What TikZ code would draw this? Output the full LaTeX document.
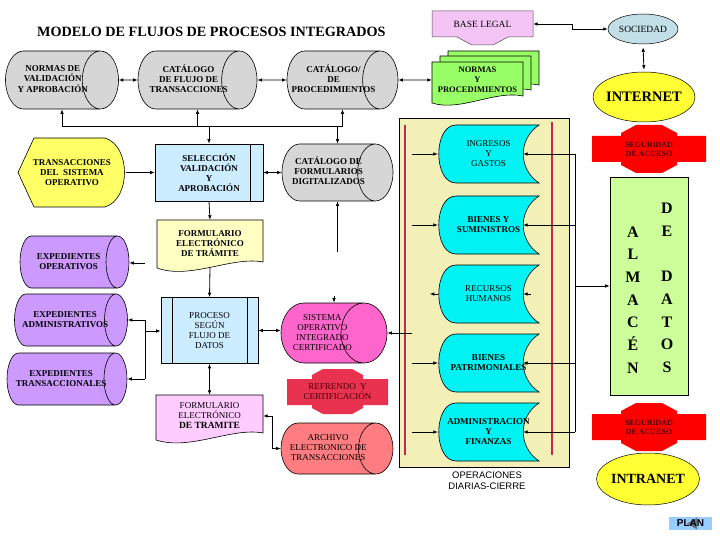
\documentclass[tikz,border=0pt]{standalone}
\usepackage{fontspec}
\setmainfont{Liberation Serif}
\newfontfamily\arialfont{Liberation Sans}
\usepackage{tikz}
\usetikzlibrary{arrows.meta, calc, shapes.geometric}
\definecolor{mgray}{HTML}{D6D6D6}
\definecolor{mlblue}{HTML}{CCECFF}
\definecolor{myellow}{HTML}{FFFF66}
\definecolor{mpaleyel}{HTML}{FFFFC4}
\definecolor{mpurple}{HTML}{CC99FF}
\definecolor{mmagenta}{HTML}{FF66CC}
\definecolor{mcrimson}{HTML}{E8324F}
\definecolor{msalmon}{HTML}{FF7C80}
\definecolor{mpink}{HTML}{FFCCFF}
\definecolor{mlegal}{HTML}{F4C4F4}
\definecolor{mgreen}{HTML}{99FF66}
\definecolor{msky}{HTML}{C2DEE6}
\definecolor{mnet}{HTML}{FFFF33}
\definecolor{mpanel}{HTML}{F2F0B6}
\definecolor{mline}{HTML}{C02A50}
\definecolor{mcyan}{HTML}{00F2F2}
\definecolor{mlime}{HTML}{CCFF99}
\definecolor{mbutton}{HTML}{99CCFF}
\definecolor{mdarkred}{HTML}{4A0008}
\definecolor{mred}{HTML}{FF0000}

% centred lines of a cylinder label, taking no width
\newcommand{\cyltxt}[1]{\hbox to 0pt{\hss\begin{tabular}{@{}c@{}}#1\end{tabular}\hss}}

\tikzset{
  lbl/.style={font=\fontsize{9}{10}\selectfont\bfseries, align=center, inner sep=0pt},
  lblr/.style={font=\fontsize{9}{10}\selectfont, align=center, inner sep=0pt},
  box/.style={draw, line width=0.6pt, inner sep=0pt},
  cyl/.style={cylinder, draw, line width=0.6pt, shape aspect=1.15, anchor=shape center, inner sep=0pt,
    font=\fontsize{9}{10}\selectfont\bfseries},
  cylr/.style={cyl, font=\fontsize{9}{10}\selectfont},
  outline/.style={draw=black, line width=0.6pt},
  link/.style={line width=0.8pt},
  seclbl/.style={font=\fontsize{8}{9}\selectfont\bfseries\color{mdarkred}, align=center, inner sep=0pt},
}

\begin{document}
\begin{tikzpicture}[x=1pt, y=-1pt, >={Latex[length=4.5pt, width=3.6pt]}]
  \useasboundingbox[fill=white] (0,0) rectangle (720,540);

  %% Title
  \node[font=\fontsize{14.2}{16}\selectfont\bfseries, anchor=west, inner sep=0pt] (title) at (37,32)
    {MODELO DE FLUJOS DE PROCESOS INTEGRADOS};

  %% Top row of catalogues
  \node[cyl, fill=mgray, minimum width=58pt, minimum height=113pt] (normas) at (62,80)
    {\cyltxt{NORMAS DE\\VALIDACIÓN\\Y APROBACIÓN}};
  \node[cyl, fill=mgray, minimum width=58pt, minimum height=119pt] (catflujo) at (197.5,80)
    {\cyltxt{CATÁLOGO\\DE FLUJO DE\\TRANSACCIONES}};
  \node[cyl, fill=mgray, minimum width=58pt, minimum height=111pt] (catproc) at (342.5,80)
    {\cyltxt{CATÁLOGO/\\DE\\PROCEDIMIENTOS}};

  %% Legal base and norms
  \filldraw[fill=mlegal, draw=black!70, line width=0.5pt] (432,11) -- (533,11) -- (533,37) -- (508,37)
    -- (493,45) -- (472,45) -- (457,37) -- (432,37) -- cycle;
  \node[lblr, font=\fontsize{9.5}{11}\selectfont, minimum width=101pt, minimum height=26pt] (baselegal)
    at (482.5,24) {BASE LEGAL};
  \foreach \dx/\dy in {16/-11, 8/-6, 0/0}{
    \filldraw[fill=mgreen, outline] ({432+\dx},{62+\dy}) -- ({523+\dx},{62+\dy}) -- ({523+\dx},{96+\dy})
      .. controls ({495+\dx},{90+\dy}) and ({460+\dx},{112+\dy}) .. ({432+\dx},{103+\dy}) -- cycle;
  }
  \node[lbl, font=\fontsize{8.5}{10}\selectfont\bfseries, minimum width=91pt, minimum height=40pt]
    (normasproc) at (477.5,80) {NORMAS\\Y\\PROCEDIMIENTOS};

  %% Society and networks
  \node[ellipse, draw, line width=0.5pt, fill=msky, minimum width=70pt, minimum height=30pt, inner sep=0pt,
    font=\fontsize{9.5}{11}\selectfont] (sociedad) at (643,29) {\makebox[0pt]{SOCIEDAD}};
  \node[ellipse, draw, line width=0.5pt, fill=mnet, minimum width=102pt, minimum height=50pt, inner sep=0pt,
    font=\fontsize{14.5}{16}\selectfont\bfseries] (internet) at (644,97) {\makebox[0pt]{INTERNET}};

  %% Second row
  \filldraw[fill=myellow, outline] (18,172.5) -- (34,138) -- (105,138)
    .. controls (131,146) and (131,199) .. (105,207) -- (34,207) -- cycle;
  \node[lbl, minimum width=108pt, minimum height=69pt] (transac) at (72,172.5)
    {TRANSACCIONES\\DEL\ \ SISTEMA\\OPERATIVO};
  \node[box, lbl, fill=mlblue, minimum width=108pt, minimum height=57pt] (seleccion) at (209,172.5)
    {SELECCIÓN\\VALIDACIÓN\\Y\\APROBACIÓN};
  \draw[line width=0.6pt] ($(seleccion.north east)+(-13,0)$) -- ($(seleccion.south east)+(-13,0)$);
  \node[cyl, fill=mgray, minimum width=57pt, minimum height=111pt] (catform) at (337.5,172.5)
    {\cyltxt{CATÁLOGO DE\\FORMULARIOS\\DIGITALIZADOS}};

  %% Electronic form (1)
  \filldraw[fill=mpaleyel, outline] (157,220) -- (263,220) -- (263,262)
    .. controls (232,256) and (190,280) .. (157,268) -- cycle;
  \node[lbl, minimum width=106pt, minimum height=48pt] (form1) at (210,244)
    {FORMULARIO\\ELECTRÓNICO\\DE TRÁMITE};

  %% Files
  \node[cyl, fill=mpurple, minimum width=52pt, minimum height=109pt] (expop) at (74.5,262)
    {\cyltxt{EXPEDIENTES\\OPERATIVOS}};
  \node[cyl, fill=mpurple, minimum width=52pt, minimum height=113pt] (expadm) at (71,320)
    {\cyltxt{EXPEDIENTES\\ADMINISTRATIVOS}};
  \node[cyl, fill=mpurple, minimum width=52pt, minimum height=120pt] (exptra) at (67,379)
    {\cyltxt{EXPEDIENTES\\TRANSACCIONALES}};

  %% Process
  \node[box, lblr, fill=mlblue, minimum width=97pt, minimum height=66pt] (proceso) at (209.5,330.5)
    {PROCESO\\SEGÚN\\FLUJO DE\\DATOS};
  \draw[line width=0.6pt] ($(proceso.north west)+(12,0)$) -- ($(proceso.south west)+(12,0)$);
  \draw[line width=0.6pt] ($(proceso.north east)+(-11,0)$) -- ($(proceso.south east)+(-11,0)$);
  \node[cylr, fill=mmagenta, minimum width=60pt, minimum height=106pt] (sistema) at (334,333)
    {\cyltxt{SISTEMA\\OPERATIVO\\INTEGRADO\\CERTIFICADO}};

  %% Endorsement
  \fill[mcrimson] (287,379) -- (312,379) -- (312,375) -- (323,369) -- (352,369) -- (363,375) -- (363,379)
    -- (388,379) -- (388,405) -- (363,405) -- (363,408) -- (352,414) -- (323,414) -- (312,408)
    -- (312,405) -- (287,405) -- cycle;
  \node[lblr, text=mdarkred, minimum width=101pt, minimum height=26pt] (refrendo) at (337.5,392)
    {REFRENDO\ \ Y\\CERTIFICACIÓN};

  %% Electronic form (2) and archive
  \filldraw[fill=mpink, outline] (156,395) -- (263,395) -- (263,433)
    .. controls (232,427) and (190,451) .. (156,440) -- cycle;
  \node[lblr, minimum width=107pt, minimum height=42pt] (form2) at (209.5,416)
    {FORMULARIO\\ELECTRÓNICO\\{\fontsize{9.5}{10}\selectfont\bfseries DE TRAMITE}};
  \node[cylr, fill=msalmon, minimum width=51pt, minimum height=112pt] (archivo) at (337,448.5)
    {\cyltxt{ARCHIVO\\ELECTRONICO DE\\TRANSACCIONES}};

  %% Daily operations panel
  \filldraw[fill=mpanel, outline] (399,118) rectangle (569,467);
  \draw[mline, line width=1.5pt] (405,125) -- (405,455);
  \draw[mline, line width=1.5pt] (552,122) -- (552,455);
  \foreach \t/\nm/\fw/\txt in {125/ingresos/\mdseries/{INGRESOS\\Y\\GASTOS},
                               196/bienes/\bfseries/{BIENES Y\\SUMINISTROS},
                               265/recursos/\mdseries/{RECURSOS\\HUMANOS},
                               334/patrimonio/\bfseries/{BIENES\\PATRIMONIALES},
                               403/finanzas/\bfseries/{ADMINISTRACION\\Y\\FINANZAS}}{
    \filldraw[fill=mcyan, outline] (539,\t) -- (456,\t) .. controls (433,\t) and (433,\t+58) .. (456,\t+58)
      -- (539,\t+58) .. controls (518,\t+44) and (518,\t+14) .. cycle;
    \node[lbl, font={\fontsize{9}{10}\selectfont\fw}, minimum width=101pt, minimum height=58pt] (\nm)
      at (488.5,\t+29) {\txt};
  }
  \node[font=\arialfont\fontsize{9.5}{11}\selectfont, align=center, inner sep=0pt] (opdiarias) at (487,481)
    {OPERACIONES\\DIARIAS-CIERRE};

  %% Security and data store
  \foreach \tp in {136, 414}{
    \fill[mred] (592,\tp) -- (621,\tp) -- (621,\tp-3) -- (636,\tp-11) -- (662,\tp-11) -- (677,\tp-3)
      -- (677,\tp) -- (706,\tp) -- (706,\tp+26) -- (677,\tp+26) -- (677,\tp+29) -- (662,\tp+37)
      -- (636,\tp+37) -- (621,\tp+29) -- (621,\tp+26) -- (592,\tp+26) -- cycle;
  }
  \node[seclbl] (segtop) at (649,149) {SEGURIDAD\\DE ACCESO};
  \node[seclbl] (segbot) at (649,427) {SEGURIDAD\\DE ACCESO};
  \node[box, fill=mlime, minimum width=78pt, minimum height=218pt] (almacen) at (649,286) {};
  \node[font=\fontsize{16}{22.7}\selectfont\bfseries, align=center, inner sep=0pt] (almizq) at (633,300)
    {A\\L\\M\\A\\C\\É\\N};
  \node[font=\fontsize{16}{22.7}\selectfont\bfseries, align=center, inner sep=0pt] (almder) at (667,288)
    {D\\E\\[22.7pt]D\\A\\T\\O\\S};
  \node[ellipse, draw, line width=0.5pt, fill=mnet, minimum width=103pt, minimum height=52pt, inner sep=0pt,
    font=\fontsize{14}{16}\selectfont\bfseries] (intranet) at (648,479) {\makebox[0pt]{INTRANET}};

  %% Button
  \fill[mbutton] (669,517) rectangle (712,530);
  \fill[black!45!mbutton!70!gray] (697,517.5) -- (697,529.5) -- (687,523.5) -- cycle;
  \node[font=\arialfont\fontsize{10}{12}\selectfont\bfseries, inner sep=0pt] (plan) at (690.5,523.5) {PLAN};

  %% Connectors
  \begin{scope}[link]
    \draw[<->] (normas.east) -- (catflujo.west);
    \draw[<->] (catflujo.east) -- (catproc.west);
    \draw[<->] (catproc.east) -- (normasproc.west);
    \coordinate (bus) at (0,126);
    \draw (normas.shape center |- bus) -- (catproc.shape center |- bus);
    \draw[->] (normas.shape center |- bus) -- (normas.shape center |- normas.south);
    \draw[->] (catflujo.shape center |- bus) -- (catflujo.shape center |- catflujo.south);
    \draw[->] (catproc.shape center |- bus) -- (catproc.shape center |- catproc.south);
    \draw[->] (seleccion.north |- bus) -- (seleccion.north);
    \draw[->] (catform.shape center |- bus) -- (catform.shape center |- catform.north);
    \draw[->] (transac.east) -- (seleccion.west);
    \draw[<->] (seleccion.east) -- (catform.west);
    \draw[->] (seleccion.south) -- (form1.north);
    \coordinate (catfree) at (337,252);
    \draw[->] (catform.shape center |- catfree) -- (catform.shape center |- catform.south);
    \coordinate (opfree) at (145,263);
    \draw[->] (opfree) -- (opfree -| expop.east);
    \draw[->] (form1.south) -- (proceso.north);
    \coordinate (brk) at (145,331);
    \draw (brk |- expadm.east) -- (brk |- exptra.east);
    \draw[->] (brk |- expadm.east) -- (expadm.east);
    \draw[->] (brk |- exptra.east) -- (exptra.east);
    \draw[->] (brk) -- (brk -| proceso.west);
    \draw[<->] (proceso.east) -- (proceso.east -| sistema.west);
    \draw[<->] (proceso.south) -- (form2.north);
    \draw[<->] (form2.east) -- ++(9,0) |- (archivo.west);
    \draw[->] ($(sistema.shape center |- sistema.north)+(0,-7)$) -- (sistema.shape center |- sistema.north);
    \coordinate (sisfree) at (412,333);
    \draw[->] (sisfree) -- (sisfree -| sistema.east);
    \foreach \nm in {ingresos, bienes, patrimonio, finanzas}{
      \draw[->] ([xshift=-26pt]\nm.west) -- (\nm.west);
    }
    \draw[->] (recursos.west) -- ([xshift=-8pt]recursos.west);
    \draw[->] ([xshift=-8pt]recursos.east) -- ([xshift=-16pt]recursos.east);
    \coordinate (busr) at (575,0);
    \draw (busr |- ingresos.east) -- (busr |- finanzas.east);
    \foreach \nm in {ingresos, bienes, patrimonio, finanzas}{
      \draw[->] (busr |- \nm.east) -- ([xshift=-16pt]\nm.east);
    }
    \draw[->] (busr |- almacen.west) -- (almacen.west);
    \draw[<->] (baselegal.east) -- ++(39,0) |- (sociedad.west);
    \draw[<->, shorten <=3pt, shorten >=2pt] (sociedad.south) -- (internet.north);
  \end{scope}

\end{tikzpicture}
\end{document}
